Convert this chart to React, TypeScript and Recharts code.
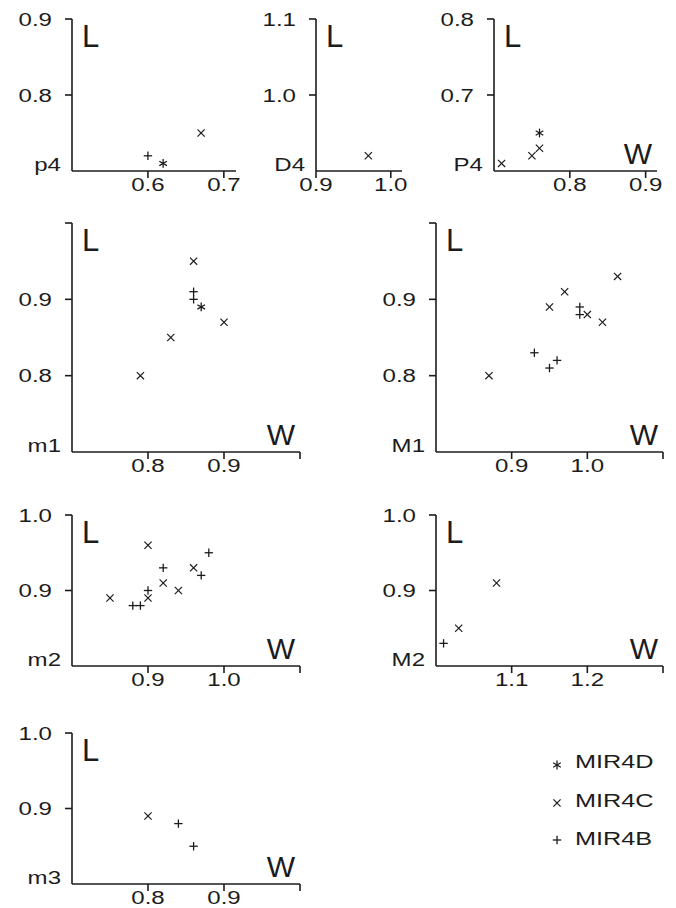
import { ScatterChart, Scatter, XAxis, YAxis } from 'recharts';

type Pt = { w: number; l: number };

// species names, in legend order
const legendNames = ['MIR4D', 'MIR4C', 'MIR4B'];

// p4
const p4D: Pt[] = [{ w: 0.62, l: 0.71 }];
const p4C: Pt[] = [{ w: 0.67, l: 0.75 }];
const p4B: Pt[] = [{ w: 0.6, l: 0.72 }];
const p4XTicks = [0.6, 0.7];
const p4XLabels = ['0.6', '0.7'];
const p4YTicks = [0.8, 0.9];
const p4YLabels = ['0.8', '0.9'];

// D4
const d4D: Pt[] = [];
const d4C: Pt[] = [{ w: 0.97, l: 0.92 }];
const d4B: Pt[] = [];
const d4XTicks = [0.9, 1.0];
const d4XLabels = ['0.9', '1.0'];
const d4YTicks = [1.0, 1.1];
const d4YLabels = ['1.0', '1.1'];

// P4
const P4D: Pt[] = [{ w: 0.76, l: 0.65 }];
const P4C: Pt[] = [
  { w: 0.71, l: 0.61 },
  { w: 0.75, l: 0.62 },
  { w: 0.76, l: 0.63 },
];
const P4B: Pt[] = [];
const P4XTicks = [0.8, 0.9];
const P4XLabels = ['0.8', '0.9'];
const P4YTicks = [0.7, 0.8];
const P4YLabels = ['0.7', '0.8'];

// m1
const m1D: Pt[] = [{ w: 0.87, l: 0.89 }];
const m1C: Pt[] = [
  { w: 0.86, l: 0.95 },
  { w: 0.9, l: 0.87 },
  { w: 0.83, l: 0.85 },
  { w: 0.79, l: 0.8 },
];
const m1B: Pt[] = [
  { w: 0.86, l: 0.91 },
  { w: 0.86, l: 0.9 },
];
const m1XTicks = [0.8, 0.9, 1.0];
const m1XLabels = ['0.8', '0.9', ''];
const m1YTicks = [0.8, 0.9, 1.0];
const m1YLabels = ['0.8', '0.9', ''];

// M1
const M1D: Pt[] = [];
const M1C: Pt[] = [
  { w: 0.87, l: 0.8 },
  { w: 0.95, l: 0.89 },
  { w: 0.97, l: 0.91 },
  { w: 1.0, l: 0.88 },
  { w: 1.02, l: 0.87 },
  { w: 1.04, l: 0.93 },
];
const M1B: Pt[] = [
  { w: 0.93, l: 0.83 },
  { w: 0.95, l: 0.81 },
  { w: 0.96, l: 0.82 },
  { w: 0.99, l: 0.89 },
  { w: 0.99, l: 0.88 },
];
const M1XTicks = [0.9, 1.0, 1.1];
const M1XLabels = ['0.9', '1.0', ''];
const M1YTicks = [0.8, 0.9, 1.0];
const M1YLabels = ['0.8', '0.9', ''];

// m2
const m2D: Pt[] = [];
const m2C: Pt[] = [
  { w: 0.85, l: 0.89 },
  { w: 0.9, l: 0.89 },
  { w: 0.9, l: 0.96 },
  { w: 0.92, l: 0.91 },
  { w: 0.94, l: 0.9 },
  { w: 0.96, l: 0.93 },
];
const m2B: Pt[] = [
  { w: 0.88, l: 0.88 },
  { w: 0.89, l: 0.88 },
  { w: 0.9, l: 0.9 },
  { w: 0.92, l: 0.93 },
  { w: 0.97, l: 0.92 },
  { w: 0.98, l: 0.95 },
];
const m2XTicks = [0.9, 1.0, 1.1];
const m2XLabels = ['0.9', '1.0', ''];
const m2YTicks = [0.9, 1.0];
const m2YLabels = ['0.9', '1.0'];

// M2
const M2D: Pt[] = [];
const M2C: Pt[] = [
  { w: 1.08, l: 0.91 },
  { w: 1.03, l: 0.85 },
];
const M2B: Pt[] = [{ w: 1.01, l: 0.83 }];
const M2XTicks = [1.1, 1.2, 1.3];
const M2XLabels = ['1.1', '1.2', ''];
const M2YTicks = [0.9, 1.0];
const M2YLabels = ['0.9', '1.0'];

// m3
const m3D: Pt[] = [];
const m3C: Pt[] = [{ w: 0.8, l: 0.89 }];
const m3B: Pt[] = [
  { w: 0.84, l: 0.88 },
  { w: 0.86, l: 0.85 },
];
const m3XTicks = [0.8, 0.9, 1.0];
const m3XLabels = ['0.8', '0.9', ''];
const m3YTicks = [0.9, 1.0];
const m3YLabels = ['0.9', '1.0'];

const INK = '#1c1c1c';
const FONT = '"Liberation Sans", Arial, sans-serif';
const LEFT = 70;
const RIGHT = 16;
const TOP = 12;
const BOTTOM = 34;

type Panel = {
  name: string;
  x0: number;
  x1: number;
  y0: number;
  y1: number;
  xDomain: [number, number];
  yDomain: [number, number];
  xTicks: number[];
  xLabels: string[];
  yTicks: number[];
  yLabels: string[];
  showW: boolean;
  D: Pt[];
  C: Pt[];
  B: Pt[];
};

const panels: Panel[] = [
  { name: 'p4', x0: 72, x1: 236, y0: 19, y1: 171, xDomain: [0.5, 0.716], yDomain: [0.7, 0.9], xTicks: p4XTicks, xLabels: p4XLabels, yTicks: p4YTicks, yLabels: p4YLabels, showW: false, D: p4D, C: p4C, B: p4B },
  { name: 'D4', x0: 316, x1: 402, y0: 19, y1: 171, xDomain: [0.9, 1.015], yDomain: [0.9, 1.1], xTicks: d4XTicks, xLabels: d4XLabels, yTicks: d4YTicks, yLabels: d4YLabels, showW: false, D: d4D, C: d4C, B: d4B },
  { name: 'P4', x0: 494, x1: 657, y0: 19, y1: 171, xDomain: [0.7, 0.915], yDomain: [0.6, 0.8], xTicks: P4XTicks, xLabels: P4XLabels, yTicks: P4YTicks, yLabels: P4YLabels, showW: true, D: P4D, C: P4C, B: P4B },
  { name: 'm1', x0: 72, x1: 300, y0: 223, y1: 452, xDomain: [0.7, 1.0], yDomain: [0.7, 1.0], xTicks: m1XTicks, xLabels: m1XLabels, yTicks: m1YTicks, yLabels: m1YLabels, showW: true, D: m1D, C: m1C, B: m1B },
  { name: 'M1', x0: 436, x1: 663, y0: 223, y1: 452, xDomain: [0.8, 1.1], yDomain: [0.7, 1.0], xTicks: M1XTicks, xLabels: M1XLabels, yTicks: M1YTicks, yLabels: M1YLabels, showW: true, D: M1D, C: M1C, B: M1B },
  { name: 'm2', x0: 72, x1: 300, y0: 515, y1: 666, xDomain: [0.8, 1.1], yDomain: [0.8, 1.0], xTicks: m2XTicks, xLabels: m2XLabels, yTicks: m2YTicks, yLabels: m2YLabels, showW: true, D: m2D, C: m2C, B: m2B },
  { name: 'M2', x0: 436, x1: 663, y0: 515, y1: 666, xDomain: [1.0, 1.3], yDomain: [0.8, 1.0], xTicks: M2XTicks, xLabels: M2XLabels, yTicks: M2YTicks, yLabels: M2YLabels, showW: true, D: M2D, C: M2C, B: M2B },
  { name: 'm3', x0: 72, x1: 300, y0: 733, y1: 884, xDomain: [0.7, 1.0], yDomain: [0.8, 1.0], xTicks: m3XTicks, xLabels: m3XLabels, yTicks: m3YTicks, yLabels: m3YLabels, showW: true, D: m3D, C: m3C, B: m3B },
];

function WideText({ x, y, anchor, size = 18.5, sx = 1.3, dy, children }: any) {
  return (
    <text
      transform={`translate(${x},${y}) scale(${sx},1)`}
      textAnchor={anchor}
      dy={dy}
      fontFamily={FONT}
      fontSize={size}
      fill={INK}
    >
      {children}
    </text>
  );
}

// marker shapes
function Star({ cx, cy }: any) {
  const r = 4.4;
  const a = r * 0.866;
  const b = r * 0.5;
  return (
    <g stroke={INK} strokeWidth={1.3}>
      <line x1={cx} y1={cy - r} x2={cx} y2={cy + r} />
      <line x1={cx - a} y1={cy - b} x2={cx + a} y2={cy + b} />
      <line x1={cx - a} y1={cy + b} x2={cx + a} y2={cy - b} />
    </g>
  );
}

function Times({ cx, cy }: any) {
  const r = 3.6;
  return (
    <g stroke={INK} strokeWidth={1.2}>
      <line x1={cx - r} y1={cy - r} x2={cx + r} y2={cy + r} />
      <line x1={cx - r} y1={cy + r} x2={cx + r} y2={cy - r} />
    </g>
  );
}

function Plus({ cx, cy }: any) {
  const r = 4.2;
  return (
    <g stroke={INK} strokeWidth={1.3}>
      <line x1={cx - r} y1={cy} x2={cx + r} y2={cy} />
      <line x1={cx} y1={cy - r} x2={cx} y2={cy + r} />
    </g>
  );
}

const near = (a: number, b: number) => Math.abs(a - b) < 1e-6;

function PanelChart({ p }: { p: Panel }) {
  const plotW = p.x1 - p.x0;
  const plotH = p.y1 - p.y0;
  const width = plotW + LEFT + RIGHT;
  const height = plotH + TOP + BOTTOM;

  const yTick = (props: any) => {
    const { x, y, payload } = props;
    const idx = p.yTicks.findIndex((t) => near(t, payload.value));
    const label = idx >= 0 ? p.yLabels[idx] : '';
    if (!label) return <g />;
    return (
      <WideText x={x} y={y} anchor="end" dy="0.36em">
        {label}
      </WideText>
    );
  };

  const xTick = (props: any) => {
    const { x, y, payload } = props;
    const idx = p.xTicks.findIndex((t) => near(t, payload.value));
    const label = idx >= 0 ? p.xLabels[idx] : '';
    if (!label) return <g />;
    return (
      <WideText x={x} y={y} anchor="middle">
        {label}
      </WideText>
    );
  };

  return (
    <div style={{ position: 'absolute', left: p.x0 - LEFT, top: p.y0 - TOP }}>
      <ScatterChart
        width={width}
        height={height}
        margin={{ top: TOP, right: RIGHT, bottom: 0, left: 0 }}
      >
        <XAxis
          type="number"
          dataKey="w"
          domain={p.xDomain}
          allowDataOverflow
          ticks={p.xTicks}
          interval={0}
          height={BOTTOM}
          tickSize={7}
          tickMargin={13}
          tickLine={{ stroke: INK, strokeWidth: 1.6 }}
          axisLine={{ stroke: INK, strokeWidth: 1.6 }}
          tick={xTick}
          label={{
            content: () =>
              p.showW ? (
                <text
                  x={LEFT + plotW - 5}
                  y={TOP + plotH - 7}
                  textAnchor="end"
                  fontFamily={FONT}
                  fontSize={30}
                  fill={INK}
                >
                  W
                </text>
              ) : null,
          }}
        />
        <YAxis
          type="number"
          dataKey="l"
          domain={p.yDomain}
          allowDataOverflow
          ticks={p.yTicks}
          interval={0}
          width={LEFT}
          tickSize={7}
          tickMargin={13}
          tickLine={{ stroke: INK, strokeWidth: 1.6 }}
          axisLine={{ stroke: INK, strokeWidth: 1.6 }}
          tick={yTick}
          label={{
            content: () => (
              <g>
                <text
                  x={LEFT + 10}
                  y={TOP + 28}
                  fontFamily={FONT}
                  fontSize={31}
                  fill={INK}
                >
                  L
                </text>
                <WideText x={LEFT - 11} y={TOP + plotH} anchor="end">
                  {p.name}
                </WideText>
              </g>
            ),
          }}
        />
        <Scatter data={p.C} shape={Times} isAnimationActive={false} />
        <Scatter data={p.B} shape={Plus} isAnimationActive={false} />
        <Scatter data={p.D} shape={Star} isAnimationActive={false} />
      </ScatterChart>
    </div>
  );
}

function KeyBox() {
  const shapes = [Star, Times, Plus];
  const markY = [20, 58, 95];
  const textY = [23, 62, 100];
  return (
    <svg
      width={136}
      height={112}
      style={{ position: 'absolute', left: 540, top: 745 }}
    >
      {legendNames.map((n, i) => {
        const S = shapes[i];
        return (
          <g key={n}>
            <S cx={17} cy={markY[i]} />
            <WideText x={35} y={textY[i]} anchor="start" size={19} sx={1.33}>
              {n}
            </WideText>
          </g>
        );
      })}
    </svg>
  );
}

export default function App() {
  return (
    <div
      style={{
        position: 'absolute',
        left: 0,
        top: 0,
        width: 676,
        height: 908,
        background: '#fff',
        overflow: 'hidden',
      }}
    >
      {panels.map((p) => (
        <PanelChart key={p.name} p={p} />
      ))}
      <KeyBox />
    </div>
  );
}
